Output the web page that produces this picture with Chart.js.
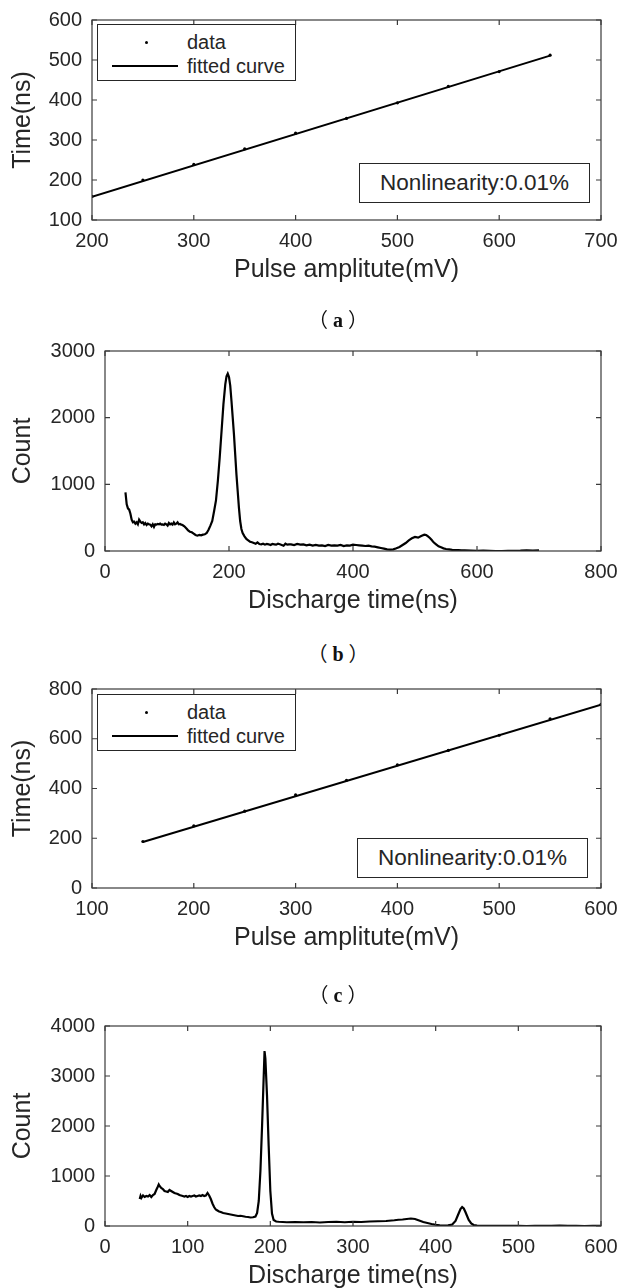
<!DOCTYPE html>
<html>
<head>
<meta charset="utf-8">
<script src="https://cdn.jsdelivr.net/npm/chart.js@4.4.1/dist/chart.umd.min.js"></script>
<style>
  html, body { margin: 0; padding: 0; background: #fff; }
  body { width: 622px; height: 1288px; position: relative; overflow: hidden;
         font-family: "Liberation Sans", Arial, sans-serif; color: #262626; }
  .panel { position: absolute; left: 0; width: 622px; }
  .cap { position: absolute; width: 100px; margin-left: -50px; text-align: center; font-size: 20px; color: #111;
         white-space: nowrap; }
  .cap .p { font-family: "Noto Sans CJK SC", sans-serif; }
  .cap .l { font-family: "Liberation Serif", "DejaVu Serif", serif; font-weight: bold; margin: 0 5px; }
  .legend { position: absolute; border: 1px solid #262626; background: #fff; box-sizing: border-box; }
  .legend .row { position: absolute; left: 0; right: 0; height: 24px; font-size: 20px; line-height: 24px; }
  .legend .txt { position: absolute; left: 89px; }
  .legend .dot { position: absolute; left: 47px; top: 11px; width: 3px; height: 3px; background: #000; border-radius: 50%; }
  .legend .ln { position: absolute; left: 14px; width: 66px; top: 11px; height: 2px; background: #000; }
  .note { position: absolute; border: 1px solid #262626; background: #fff; box-sizing: border-box;
          font-size: 22.5px; text-align: center; }
</style>
</head>
<body>
<div class="panel" id="pa" style="top:0;height:290px"><canvas id="ca"></canvas></div>
<div class="panel" id="pb" style="top:330px;height:290px"><canvas id="cb"></canvas></div>
<div class="panel" id="pc" style="top:670px;height:290px"><canvas id="cc"></canvas></div>
<div class="panel" id="pd" style="top:1000px;height:288px"><canvas id="cd"></canvas></div>

<div class="cap" style="left:338px;top:304px"><span class="p">（</span><span class="l">a</span><span class="p">）</span></div>
<div class="cap" style="left:338px;top:638px"><span class="p">（</span><span class="l">b</span><span class="p">）</span></div>
<div class="cap" style="left:338px;top:979px"><span class="p">（</span><span class="l">c</span><span class="p">）</span></div>

<div class="legend" style="left:97px;top:24px;width:199px;height:57px">
  <div class="row" style="top:5px"><span class="dot"></span><span class="txt">data</span></div>
  <div class="row" style="top:29px"><span class="ln"></span><span class="txt">fitted curve</span></div>
</div>
<div class="note" style="left:359px;top:163px;width:231px;height:40px;line-height:38px">Nonlinearity:0.01%</div>

<div class="legend" style="left:97px;top:694px;width:199px;height:57px">
  <div class="row" style="top:5px"><span class="dot"></span><span class="txt">data</span></div>
  <div class="row" style="top:29px"><span class="ln"></span><span class="txt">fitted curve</span></div>
</div>
<div class="note" style="left:357px;top:838px;width:231px;height:40px;line-height:38px">Nonlinearity:0.01%</div>

<script>
// ---- (a) pulse amplitude vs time, first detector ----
var ampA = [200, 250, 300, 350, 400, 450, 500, 550, 600, 650];
var timeA = [159, 200, 239, 278, 317, 354, 393, 434, 471, 512];
var fitAmpA = [200, 650];
var fitTimeA = [158, 511];
var xTicksA = [200, 300, 400, 500, 600, 700];
var yTicksA = [100, 200, 300, 400, 500, 600];

// ---- (b) discharge time histogram, first detector ----
var timeB = [33, 35, 37, 39, 41, 43, 45, 47, 49, 51, 53, 55, 57, 59, 61, 63, 65, 67, 69, 71,
  73, 75, 77, 79, 81, 83, 85, 87, 89, 91, 93, 95, 97, 99, 101, 103, 105, 107, 109, 111,
  113, 115, 117, 119, 121, 123, 125, 128, 131, 134, 137, 140, 143, 146, 149, 152, 155, 158, 161, 164,
  167, 170, 173, 176, 179, 182, 185, 188, 191, 194, 196, 198, 200, 202, 204, 206, 208, 210, 212, 214,
  216, 218, 220, 222, 225, 228, 231, 234, 237, 240, 243, 246, 249, 252, 255, 258, 261, 264, 267, 270,
  273, 276, 279, 282, 285, 288, 291, 294, 297, 300, 305, 310, 315, 320, 325, 330, 335, 340, 345, 350,
  355, 360, 365, 370, 375, 380, 385, 390, 395, 400, 405, 410, 415, 420, 425, 430, 435, 440, 445, 450,
  455, 460, 465, 470, 475, 480, 485, 490, 495, 500, 505, 510, 515, 518, 521, 524, 527, 530, 534, 538,
  542, 546, 550, 555, 560, 565, 570, 575, 580, 590, 600, 610, 620, 630, 640, 650, 660, 670, 680, 690, 700];
var countB = [880, 700, 640, 620, 560, 470, 430, 440, 410, 430, 400, 470, 440, 420, 430, 400, 420, 390, 410, 400,
  395, 370, 400, 360, 400, 395, 405, 400, 410, 395, 400, 390, 410, 400, 380, 420, 400, 410, 395, 430,
  400, 410, 430, 400, 405, 395, 390, 370, 340, 310, 290, 280, 260, 240, 230, 240, 235, 245, 250, 270,
  320, 380, 450, 600, 760, 1050, 1400, 1800, 2200, 2500, 2620, 2660, 2610, 2480, 2250, 2000, 1750, 1450, 1150, 900,
  650, 450, 330, 270, 220, 180, 160, 140, 130, 120, 110, 130, 105, 100, 110, 95, 105, 100, 90, 105,
  100, 95, 110, 100, 90, 80, 110, 95, 100, 100, 90, 105, 95, 100, 85, 95, 80, 90, 80, 85,
  75, 90, 80, 85, 80, 90, 75, 85, 80, 95, 90, 85, 80, 75, 80, 70, 65, 55, 45, 35,
  25, 20, 25, 40, 60, 90, 120, 160, 190, 210, 200, 225, 245, 240, 220, 195, 165, 130, 100, 70,
  55, 40, 30, 25, 18, 15, 12, 10, 8, 5, 3, 5, 2, 0, 0, 2, 3, 5, 10, 5, 8];
var xTicksB = [0, 200, 400, 600, 800];
var yTicksB = [0, 1000, 2000, 3000];

// ---- (c) pulse amplitude vs time, second detector ----
var ampC = [150, 200, 250, 300, 350, 400, 450, 500, 550, 600];
var timeC = [187, 250, 309, 374, 433, 495, 553, 614, 680, 738];
var fitAmpC = [150, 600];
var fitTimeC = [185, 737];
var xTicksC = [100, 200, 300, 400, 500, 600];
var yTicksC = [0, 200, 400, 600, 800];

// ---- (d) discharge time histogram, second detector ----
var timeD = [42, 43, 44, 46, 48, 50, 52, 54, 56, 58, 60, 62, 64, 65, 66, 68, 70, 72, 74, 76,
  78, 80, 82, 84, 86, 88, 90, 92, 94, 96, 98, 100, 102, 104, 106, 108, 110, 112, 114, 116,
  118, 120, 122, 124, 126, 128, 130, 132, 134, 136, 138, 140, 143, 146, 149, 152, 155, 158, 161, 164,
  167, 170, 173, 176, 179, 182, 184, 186, 188, 190, 192, 193, 194, 196, 198, 200, 202, 204, 207, 210,
  215, 220, 230, 240, 250, 260, 270, 280, 290, 300, 310, 320, 330, 340, 350, 355, 360, 365, 370, 375,
  380, 385, 390, 395, 400, 405, 410, 415, 420, 424, 427, 430, 432, 434, 436, 438, 440, 443, 446, 450,
  460, 470, 480, 490, 500, 510, 520, 530, 540, 550, 560, 570, 580, 590, 600];
var countD = [540, 600, 560, 610, 580, 600, 590, 620, 580, 620, 640, 720, 790, 830, 800, 760, 740, 700, 690, 680,
  720, 700, 680, 660, 650, 640, 620, 610, 600, 590, 600, 580, 600, 590, 600, 610, 590, 600, 610, 600,
  620, 600, 610, 660, 610, 540, 450, 380, 330, 310, 290, 280, 260, 250, 240, 230, 220, 210, 200, 205,
  195, 185, 180, 170, 175, 190, 260, 500, 1100, 2000, 3000, 3500, 3350, 2600, 1600, 700, 250, 120, 90, 85,
  80, 75, 80, 75, 80, 70, 80, 85, 75, 85, 80, 90, 95, 100, 115, 125, 130, 140, 150, 140,
  110, 80, 60, 40, 25, 15, 10, 15, 30, 100, 220, 340, 380, 350, 280, 200, 120, 50, 20, 10,
  5, 3, 5, 2, 5, 0, 3, 5, 2, 10, 3, 2, 0, 3, 2];
var xTicksD = [0, 100, 200, 300, 400, 500, 600];
var yTicksD = [0, 1000, 2000, 3000, 4000];

var TEXT = '#262626';
var AXIS = '#3a3a3a';
var FONT = "'Liberation Sans', Arial, sans-serif";
var TICK_SIZE = 20;
var TITLE_SIZE = 25;

function pts(xs, ys) {
  return xs.map(function (x, i) { return { x: x, y: ys[i] }; });
}

// box around the plot with inward tick marks on all four sides (MATLAB "box on")
var framePlugin = {
  id: 'frame',
  afterDatasetsDraw: function (chart) {
    var a = chart.chartArea, ctx = chart.ctx, L = 5;
    var xs = chart.scales.x, ys = chart.scales.y;
    ctx.save();
    ctx.strokeStyle = AXIS;
    ctx.lineWidth = 1.2;
    ctx.strokeRect(a.left, a.top, a.right - a.left, a.bottom - a.top);
    ctx.beginPath();
    xs.ticks.forEach(function (t) {
      var px = xs.getPixelForValue(t.value);
      ctx.moveTo(px, a.bottom); ctx.lineTo(px, a.bottom - L);
      ctx.moveTo(px, a.top); ctx.lineTo(px, a.top + L);
    });
    ys.ticks.forEach(function (t) {
      var py = ys.getPixelForValue(t.value);
      ctx.moveTo(a.left, py); ctx.lineTo(a.left + L, py);
      ctx.moveTo(a.right, py); ctx.lineTo(a.right - L, py);
    });
    ctx.stroke();
    ctx.restore();
  }
};

function plain(v) { return String(v); }

function makePanel(id, p) {
  var titleOff = 50;
  var xh = p.height - p.plotBottom;
  var titleLH = TITLE_SIZE * 1.2;
  var cfg = {
    type: 'scatter',
    data: { datasets: p.datasets },
    options: {
      responsive: true,
      maintainAspectRatio: false,
      animation: false,
      layout: { padding: { top: p.plotTop, right: 21, bottom: 0, left: 0 } },
      plugins: { legend: { display: false }, tooltip: { enabled: false } },
      scales: {
        x: {
          type: 'linear', min: p.xTicks[0], max: p.xTicks[p.xTicks.length - 1],
          afterBuildTicks: function (s) { s.ticks = p.xTicks.map(function (v) { return { value: v }; }); },
          afterFit: function (s) { s.height = xh; s.paddingLeft = 0; s.paddingRight = 0; },
          grid: { display: false, drawTicks: false },
          border: { display: false },
          ticks: { color: TEXT, font: { family: FONT, size: TICK_SIZE }, padding: 9, maxRotation: 0, callback: plain },
          title: { display: true, text: p.xTitle, color: TEXT, font: { family: FONT, size: TITLE_SIZE },
                   padding: { top: 0, bottom: xh - titleOff - titleLH / 2 } }
        },
        y: {
          type: 'linear', min: p.yTicks[0], max: p.yTicks[p.yTicks.length - 1],
          afterBuildTicks: function (s) { s.ticks = p.yTicks.map(function (v) { return { value: v }; }); },
          afterFit: function (s) { s.width = p.plotLeft; s.paddingTop = 0; s.paddingBottom = 0; },
          grid: { display: false, drawTicks: false },
          border: { display: false },
          ticks: { color: TEXT, font: { family: FONT, size: TICK_SIZE }, padding: 10, callback: plain },
          title: { display: true, text: p.yTitle, color: TEXT, font: { family: FONT, size: TITLE_SIZE },
                   padding: { top: 8, bottom: 0 } }
        }
      }
    },
    plugins: [framePlugin]
  };
  return new Chart(document.getElementById(id), cfg);
}

function fitSets(ax, ay, fx, fy) {
  return [
    { label: 'data', data: pts(ax, ay), pointRadius: 1.6, pointBackgroundColor: '#000',
      pointBorderWidth: 0, showLine: false },
    { label: 'fitted curve', data: pts(fx, fy), showLine: true, borderColor: '#000',
      borderWidth: 2, pointRadius: 0 }
  ];
}

function histSet(xs, ys) {
  return [{ label: 'count', data: pts(xs, ys), showLine: true, borderColor: '#000',
            borderWidth: 2.2, pointRadius: 0, tension: 0 }];
}

makePanel('ca', { height: 290, plotTop: 20, plotBottom: 220, plotLeft: 92,
  xTicks: xTicksA, yTicks: yTicksA, xTitle: 'Pulse amplitute(mV)', yTitle: 'Time(ns)',
  datasets: fitSets(ampA, timeA, fitAmpA, fitTimeA) });
makePanel('cb', { height: 290, plotTop: 21, plotBottom: 221, plotLeft: 105,
  xTicks: xTicksB, yTicks: yTicksB, xTitle: 'Discharge time(ns)', yTitle: 'Count',
  datasets: histSet(timeB, countB) });
makePanel('cc', { height: 290, plotTop: 19, plotBottom: 218, plotLeft: 92,
  xTicks: xTicksC, yTicks: yTicksC, xTitle: 'Pulse amplitute(mV)', yTitle: 'Time(ns)',
  datasets: fitSets(ampC, timeC, fitAmpC, fitTimeC) });
makePanel('cd', { height: 288, plotTop: 26, plotBottom: 226, plotLeft: 105,
  xTicks: xTicksD, yTicks: yTicksD, xTitle: 'Discharge time(ns)', yTitle: 'Count',
  datasets: histSet(timeD, countD) });
</script>
</body>
</html>
